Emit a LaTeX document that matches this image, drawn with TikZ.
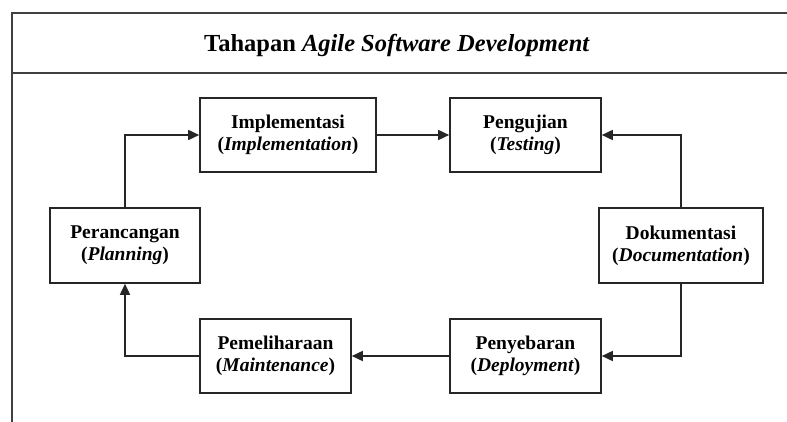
\documentclass[tikz,border=0pt]{standalone}
\usepackage{fontspec}
\setmainfont{Liberation Serif}
\usetikzlibrary{arrows.meta}

\tikzset{
  stage/.style={draw=black!85, line width=1.6pt, fill=white, align=center,
    font=\fontsize{19.5}{22}\selectfont\bfseries, inner sep=0pt},
  flow/.style={draw=black!85, line width=1.6pt, -{Triangle[length=11pt,width=10pt]}},
  frameline/.style={draw=black!75, line width=2.6pt}
}

\begin{document}
\begin{tikzpicture}[x=1pt, y=-1pt]
  \useasboundingbox (0,0) rectangle (787,422);

  % outer frame and title band
  \coordinate (ftl) at (12,13);
  \coordinate (ftr) at (790,13);
  \coordinate (fbl) at (12,425);
  \coordinate (hl) at (12,73);
  \coordinate (hr) at (790,73);
  \draw[frameline] (fbl) -- (ftl) -- (ftr);
  \draw[frameline] (hl) -- (hr);

  \node[font=\fontsize{24.5}{28}\selectfont\bfseries] (title) at (397,45)
    {Tahapan \textit{Agile Software Development}};

  % stages
  \node[stage, minimum width=150pt, minimum height=75pt] (plan) at (125,245.5)
    {Perancangan\\(\textit{Planning})};
  \node[stage, minimum width=176pt, minimum height=74pt] (impl) at (288,135)
    {Implementasi\\(\textit{Implementation})};
  \node[stage, minimum width=151pt, minimum height=74pt] (test) at (525.5,135)
    {Pengujian\\(\textit{Testing})};
  \node[stage, minimum width=164pt, minimum height=75pt] (doc) at (681,245.5)
    {Dokumentasi\\(\textit{Documentation})};
  \node[stage, minimum width=151pt, minimum height=74pt] (deploy) at (525.5,356)
    {Penyebaran\\(\textit{Deployment})};
  \node[stage, minimum width=151pt, minimum height=74pt] (maint) at (275.5,356)
    {Pemeliharaan\\(\textit{Maintenance})};

  % cycle connectors
  \draw[flow] (plan.north) |- (impl.west);
  \draw[flow] (impl.east) -- (test.west);
  \draw[flow] (doc.north) |- (test.east);
  \draw[flow] (doc.south) |- (deploy.east);
  \draw[flow] (deploy.west) -- (maint.east);
  \draw[flow] (maint.west) -| (plan.south);
\end{tikzpicture}
\end{document}
